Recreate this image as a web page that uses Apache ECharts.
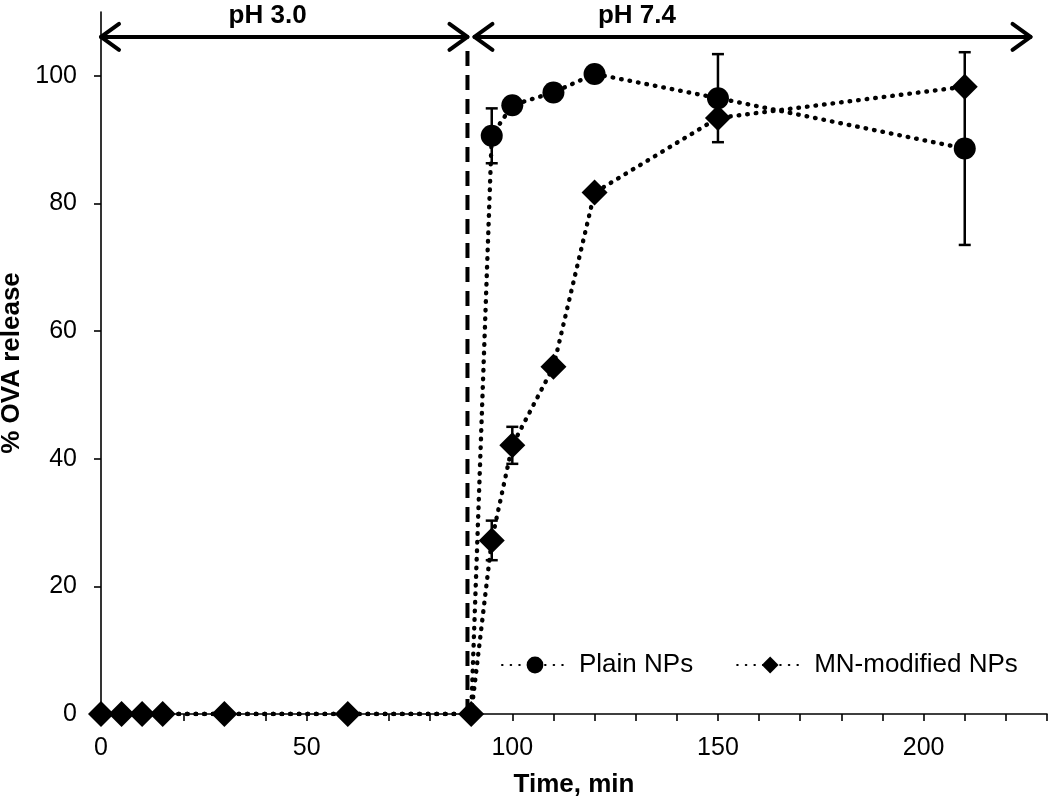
<!DOCTYPE html>
<html><head><meta charset="utf-8">
<script src="https://cdn.jsdelivr.net/npm/echarts@6/dist/echarts.min.js"></script>
<style>html,body{margin:0;padding:0;background:#fff}#c{width:1050px;height:801px}</style>
</head><body><div id="c"></div>
<script>
// ---- data ----
const times    = [0, 5, 10, 15, 30, 60, 90, 95, 100, 110, 120, 150, 210];
const plainNPs = [0, 0, 0, 0, 0, 0, 0, 90.6, 95.4, 97.4, 100.3, 96.5, 88.6];
const plainErr = [0, 0, 0, 0, 0, 0, 0, 4.3, 0, 0, 0, 6.9, 15.1];
const mnNPs    = [0, 0, 0, 0, 0, 0, 0, 27.2, 42.1, 54.4, 81.7, 93.4, 98.3];
const mnErr    = [0, 0, 0, 0, 0, 0, 0, 3.1, 2.9, 0, 0, 0, 0];
const seriesNames = ['Plain NPs', 'MN-modified NPs'];
const xTickLabels = [0, 50, 100, 150, 200];
const yTickLabels = [0, 20, 40, 60, 80, 100];
// pH phase annotations (in data units)
const phLabels   = ['pH 3.0', 'pH 7.4'];
const phStart    = [0, 90.8];
const phEnd      = [89.1, 226];
const phLabelAt  = [40.5, 130.3];
const phArrowLevel = 106.1;
const phLabelLevel = 109.4;
const switchTime = 89.1;
const switchTop  = 104.5;

const FONT = '"Liberation Sans", Arial, sans-serif';
const chart = echarts.init(document.getElementById('c'));

const plainData = times.map((t, i) => [t, plainNPs[i]]);
const mnData    = times.map((t, i) => [t, mnNPs[i]]);
const plainErrData = times.map((t, i) => [t, plainNPs[i], plainErr[i]]);
const mnErrData    = times.map((t, i) => [t, mnNPs[i], mnErr[i]]);

const dotted = { color: '#000', width: 4.4, type: [0.6, 8], cap: 'round' };

function renderErr(params, api) {
  const x = api.value(0), y = api.value(1), e = api.value(2);
  if (!e) return null;
  const top = api.coord([x, y + e]);
  const bot = api.coord([x, y - e]);
  const cap = 6;
  const st = { stroke: '#000', lineWidth: 2.5 };
  return {
    type: 'group',
    children: [
      { type: 'line', shape: { x1: top[0], y1: top[1], x2: bot[0], y2: bot[1] }, style: st },
      { type: 'line', shape: { x1: top[0] - cap, y1: top[1], x2: top[0] + cap, y2: top[1] }, style: st },
      { type: 'line', shape: { x1: bot[0] - cap, y1: bot[1], x2: bot[0] + cap, y2: bot[1] }, style: st }
    ]
  };
}

function renderAnnotations(params, api) {
  const children = [];
  const hl = 18, hh = 13;
  const st = { stroke: '#000', lineWidth: 4, fill: 'none', lineJoin: 'round', lineCap: 'round' };
  phLabels.forEach((lab, i) => {
    const a = api.coord([phStart[i], phArrowLevel]);
    const b = api.coord([phEnd[i], phArrowLevel]);
    children.push({ type: 'line', shape: { x1: a[0], y1: a[1], x2: b[0], y2: b[1] }, style: st });
    children.push({ type: 'polyline', shape: { points: [[a[0] + hl, a[1] - hh], [a[0], a[1]], [a[0] + hl, a[1] + hh]] }, style: st });
    children.push({ type: 'polyline', shape: { points: [[b[0] - hl, b[1] - hh], [b[0], b[1]], [b[0] - hl, b[1] + hh]] }, style: st });
    const t = api.coord([phLabelAt[i], phLabelLevel]);
    children.push({ type: 'text', x: t[0], y: t[1], style: { text: lab, fill: '#000', font: 'bold 26px ' + FONT, align: 'center', verticalAlign: 'middle' } });
  });
  const d0 = api.coord([switchTime, 0]);
  const d1 = api.coord([switchTime, switchTop]);
  children.push({ type: 'line', shape: { x1: d0[0], y1: d0[1], x2: d1[0], y2: d1[1] }, style: { stroke: '#000', lineWidth: 4, lineDash: [15, 9] } });
  return { type: 'group', children };
}

chart.setOption({
  animation: false,
  backgroundColor: '#fff',
  grid: { left: 101, right: 3, top: 12, bottom: 87, containLabel: false, outerBoundsMode: 'none' },
  legend: {
    data: seriesNames,
    left: 501, top: 652, padding: 0,
    itemWidth: 66, itemHeight: 21, itemGap: 43,
    textStyle: { fontSize: 26, color: '#000', fontFamily: FONT, padding: [0, 0, 0, 6] }
  },
  xAxis: {
    type: 'value', min: 0, max: 230, interval: 10,
    name: 'Time, min', nameLocation: 'middle', nameGap: 58,
    nameTextStyle: { fontSize: 26, fontWeight: 'bold', color: '#000', fontFamily: FONT },
    axisLine: { onZero: false, lineStyle: { color: '#000', width: 1.6 } },
    axisTick: { show: true, length: 7, lineStyle: { color: '#000', width: 1.6 } },
    axisLabel: {
      fontSize: 25, color: '#000', fontFamily: FONT, margin: 22,
      formatter: v => (xTickLabels.indexOf(v) >= 0 ? String(v) : '')
    },
    splitLine: { show: false }
  },
  yAxis: {
    type: 'value', min: 0, max: 110, interval: 20,
    name: '% OVA release', nameLocation: 'middle', nameGap: 74,
    nameTextStyle: { fontSize: 26, fontWeight: 'bold', color: '#000', fontFamily: FONT },
    axisLine: { show: true, lineStyle: { color: '#000', width: 1.6 } },
    axisTick: { show: true, length: 7, customValues: yTickLabels, lineStyle: { color: '#000', width: 1.6 } },
    axisLabel: { fontSize: 25, color: '#000', fontFamily: FONT, margin: 24, customValues: yTickLabels },
    splitLine: { show: false }
  },
  series: [
    {
      name: seriesNames[0], type: 'line', data: plainData,
      symbol: 'circle', symbolSize: v => (v[1] === 0 ? 0 : 22),
      lineStyle: dotted, itemStyle: { color: '#000' },
      z: 3
    },
    {
      name: seriesNames[1], type: 'line', data: mnData,
      symbol: 'diamond', symbolSize: 26,
      lineStyle: dotted, itemStyle: { color: '#000' },
      z: 4
    },
    { type: 'custom', data: plainErrData, renderItem: renderErr, z: 5, clip: false, silent: true },
    { type: 'custom', data: mnErrData, renderItem: renderErr, z: 5, clip: false, silent: true },
    { type: 'custom', data: [[0, 0]], renderItem: renderAnnotations, z: 2, clip: false, silent: true }
  ]
});
</script></body></html>
